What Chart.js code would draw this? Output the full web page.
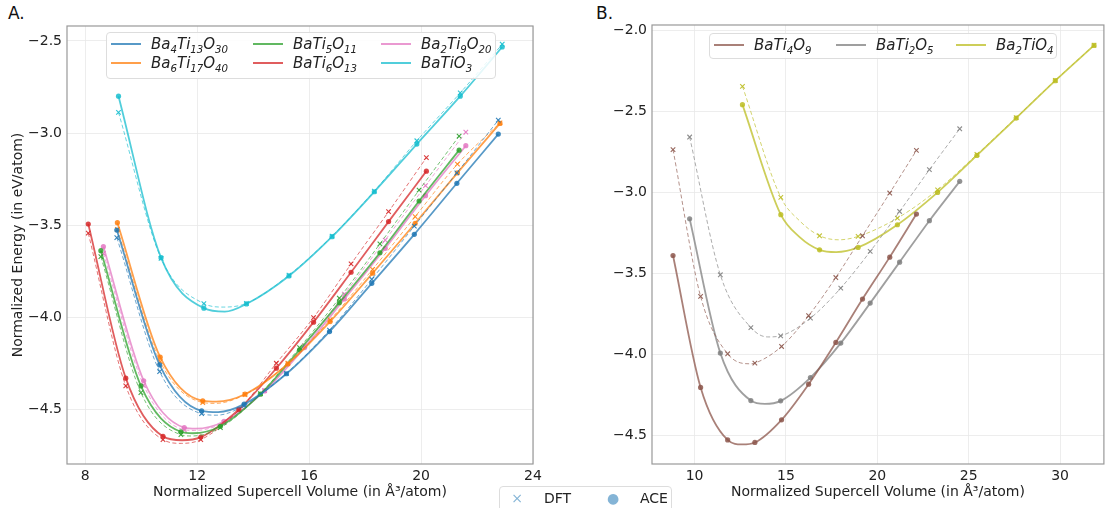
<!DOCTYPE html>
<html>
<head>
<meta charset="utf-8">
<script src="https://cdn.jsdelivr.net/npm/chart.js@4.4.1/dist/chart.umd.min.js"></script>
<style>
  body { margin:0; width:1109px; height:508px; background:#fff; position:relative; overflow:hidden; font-family:'DejaVu Sans', sans-serif; color:#222; }
  .panel { position:absolute; top:0; height:508px; }
  #wrapA { left:0; width:560px; }
  #wrapB { left:580px; width:529px; }
  .tag { position:absolute; top:3px; font-size:17px; color:#111; }
  .legend { position:absolute; border:1px solid #ddd; border-radius:4px; background:rgba(255,255,255,.85); font-size:15px; }
  .item { position:absolute; height:20px; display:flex; align-items:center; white-space:nowrap; font-style:italic; }
  .item i { display:inline-block; width:30px; height:2px; margin-right:10px; }
  .item sub { font-size:68%; vertical-align:-0.35em; line-height:0; }
  #keys .item { font-style:normal; font-size:14px; }
  #keys .mark { width:26px; text-align:center; margin-right:14px; color:rgba(31,119,180,.55); }
</style>
</head>
<body>
<div class="tag" style="left:8px">A.</div>
<div class="tag" style="left:596px">B.</div>
<div class="panel" id="wrapA"><canvas id="chartA" width="560" height="508"></canvas></div>
<div class="panel" id="wrapB"><canvas id="chartB" width="529" height="508"></canvas></div>
<div class="legend" id="legA" style="left:106px;top:32px;width:388px;height:45px"></div>
<div class="legend" id="legB" style="left:709px;top:33px;width:346px;height:24px"></div>
<div class="legend" id="keys" style="left:499px;top:486px;width:171px;height:30px"></div>
<script>
// volumes (Å^3/atom), ACE and DFT energies (eV/atom) at each volume,
// plus a few extra points (minimum etc): [ACE fit, DFT fit]

// --- panel A ---
const volBa4Ti13O30 = [9.13, 10.66, 12.16, 13.68, 15.19, 16.73, 18.24, 19.76, 21.28, 22.76];
const aceBa4Ti13O30 = [-3.527, -4.259, -4.508, -4.472, -4.307, -4.078, -3.816, -3.550, -3.273, -3.006];
const dftBa4Ti13O30 = [-3.568, -4.295, -4.524, -4.480, -4.305, -4.070, -3.794, -3.505, -3.216, -2.930];
const fitBa4Ti13O30 = [[[12.75, -4.515]], [[12.70, -4.532]]];

const volBa6Ti17O40 = [9.15, 10.68, 12.20, 13.71, 15.24, 16.75, 18.27, 19.79, 21.30, 22.82];
const aceBa6Ti17O40 = [-3.487, -4.217, -4.454, -4.418, -4.254, -4.024, -3.761, -3.490, -3.216, -2.948];
const dftBa6Ti17O40 = [-3.523, -4.241, -4.463, -4.420, -4.250, -4.015, -3.740, -3.454, -3.169, -2.945];
const fitBa6Ti17O40 = [[[12.69, -4.458]], [[12.65, -4.468]]];

const volBaTi5O11 = [8.56, 9.99, 11.42, 12.83, 14.26, 15.66, 17.08, 18.53, 19.93, 21.36];
const aceBaTi5O11 = [-3.639, -4.373, -4.622, -4.592, -4.418, -4.177, -3.921, -3.650, -3.369, -3.093];
const dftBaTi5O11 = [-3.671, -4.409, -4.638, -4.600, -4.415, -4.165, -3.897, -3.602, -3.310, -3.017];
const fitBaTi5O11 = [[[11.85, -4.630]], [[11.80, -4.645]]];

const volBaTi6O13 = [8.11, 9.45, 10.78, 12.13, 13.49, 14.83, 16.16, 17.50, 18.84, 20.19];
const aceBaTi6O13 = [-3.494, -4.331, -4.647, -4.651, -4.500, -4.277, -4.027, -3.756, -3.481, -3.207];
const dftBaTi6O13 = [-3.544, -4.373, -4.665, -4.665, -4.505, -4.250, -4.002, -3.711, -3.427, -3.134];
const fitBaTi6O13 = [[[11.46, -4.668]], [[11.45, -4.685]]];

const volBa2Ti9O20 = [8.65, 10.09, 11.54, 12.96, 14.41, 15.84, 17.26, 18.72, 20.16, 21.60];
const aceBa2Ti9O20 = [-3.617, -4.345, -4.599, -4.566, -4.400, -4.165, -3.901, -3.626, -3.340, -3.069];
const dftBa2Ti9O20 = [-3.653, -4.370, -4.611, -4.572, -4.398, -4.155, -3.875, -3.581, -3.286, -2.995];
const fitBa2Ti9O20 = [[[11.95, -4.605]], [[11.90, -4.615]]];

const volBaTiO3 = [9.19, 10.71, 12.24, 13.76, 15.28, 16.82, 18.33, 19.85, 21.40, 22.90];
const aceBaTiO3 = [-2.800, -3.677, -3.951, -3.928, -3.776, -3.563, -3.319, -3.060, -2.800, -2.533];
const dftBaTiO3 = [-2.888, -3.680, -3.926, -3.925, -3.772, -3.560, -3.315, -3.042, -2.782, -2.518];
const fitBaTiO3 = [[[12.99, -3.970]], [[12.95, -3.945]]];

// --- panel B ---
const volBaTi4O9 = [8.82, 10.33, 11.81, 13.30, 14.76, 16.24, 17.73, 19.19, 20.68, 22.14];
const aceBaTi4O9 = [-3.389, -4.204, -4.528, -4.544, -4.404, -4.184, -3.926, -3.658, -3.399, -3.133];
const dftBaTi4O9 = [-2.735, -3.642, -3.996, -4.054, -3.951, -3.761, -3.525, -3.267, -3.003, -2.740];
const fitBaTi4O9 = [[[12.60, -4.556]], [[13.05, -4.058]]];

const volBaTi2O5 = [9.73, 11.41, 13.08, 14.71, 16.34, 18.00, 19.61, 21.22, 22.85, 24.51];
const aceBaTi2O5 = [-3.162, -3.992, -4.285, -4.287, -4.143, -3.930, -3.683, -3.430, -3.174, -2.931];
const dftBaTi2O5 = [-2.657, -3.508, -3.834, -3.885, -3.776, -3.590, -3.364, -3.117, -2.859, -2.606];
const fitBaTi2O5 = [[[13.85, -4.306]], [[14.00, -3.892]]];

const volBa2TiO4 = [12.62, 14.72, 16.84, 18.95, 21.10, 23.30, 25.45, 27.60, 29.74, 31.86];
const aceBa2TiO4 = [-2.457, -3.137, -3.354, -3.339, -3.199, -2.999, -2.771, -2.540, -2.309, -2.091];
const dftBa2TiO4 = [-2.344, -3.030, -3.267, -3.271, -3.158, -2.983, -2.765, -2.537, -2.307, -2.090];
const fitBa2TiO4 = [[[15.75, -3.275], [17.75, -3.368]], [[15.75, -3.175], [17.90, -3.292]]];

const xTicksA = [8, 12, 16, 20, 24];
const yTicksA = [-4.5, -4.0, -3.5, -3.0, -2.5];
const xTicksB = [10, 15, 20, 25, 30];
const yTicksB = [-4.5, -4.0, -3.5, -3.0, -2.5, -2.0];

const xTitle = 'Normalized Supercell Volume (in Å³/atom)';
const yTitle = 'Normalized Energy (in eV/atom)';
const keyLabels = ['DFT', 'ACE'];

Chart.defaults.font.family = "'DejaVu Sans', sans-serif";
Chart.defaults.color = '#222';

function rgba(hex, a) {
  const n = parseInt(hex.slice(1), 16);
  return `rgba(${n >> 16},${(n >> 8) & 255},${n & 255},${a})`;
}
const pts = (xs, ys) => xs.map((x, i) => ({x, y: ys[i]}));
const curve = (xs, ys, extra) => pts(xs, ys).concat(extra.map(p => ({x: p[0], y: p[1]}))).sort((a, b) => a.x - b.x);

function series(color, xs, ace, dft, fit) {
  return [
    {data: curve(xs, ace, fit[0]), showLine: true, borderColor: rgba(color, .75), borderWidth: 1.8, pointRadius: 0, cubicInterpolationMode: 'monotone'},
    {data: curve(xs, dft, fit[1]), showLine: true, borderColor: rgba(color, .65), borderWidth: 1, borderDash: [4, 2.5], pointRadius: 0, cubicInterpolationMode: 'monotone'},
    {data: pts(xs, ace), pointStyle: 'circle', pointRadius: 2.6, backgroundColor: rgba(color, .85), borderWidth: 0},
    {data: pts(xs, dft), pointStyle: 'crossRot', pointRadius: 3.2, borderColor: rgba(color, .9), borderWidth: 1.1}
  ];
}

const seriesA = [
  ['Ba4Ti13O30', '#1f77b4', volBa4Ti13O30, aceBa4Ti13O30, dftBa4Ti13O30, fitBa4Ti13O30],
  ['Ba6Ti17O40', '#ff7f0e', volBa6Ti17O40, aceBa6Ti17O40, dftBa6Ti17O40, fitBa6Ti17O40],
  ['BaTi5O11', '#2ca02c', volBaTi5O11, aceBaTi5O11, dftBaTi5O11, fitBaTi5O11],
  ['BaTi6O13', '#d62728', volBaTi6O13, aceBaTi6O13, dftBaTi6O13, fitBaTi6O13],
  ['Ba2Ti9O20', '#e377c2', volBa2Ti9O20, aceBa2Ti9O20, dftBa2Ti9O20, fitBa2Ti9O20],
  ['BaTiO3', '#17becf', volBaTiO3, aceBaTiO3, dftBaTiO3, fitBaTiO3]
];
const seriesB = [
  ['BaTi4O9', '#8c564b', volBaTi4O9, aceBaTi4O9, dftBaTi4O9, fitBaTi4O9],
  ['BaTi2O5', '#7f7f7f', volBaTi2O5, aceBaTi2O5, dftBaTi2O5, fitBaTi2O5],
  ['Ba2TiO4', '#bcbd22', volBa2TiO4, aceBa2TiO4, dftBa2TiO4, fitBa2TiO4]
];

const frame = {
  id: 'frame',
  afterDatasetsDraw(c) {
    const {ctx, chartArea: a} = c;
    ctx.save();
    ctx.strokeStyle = '#999';
    ctx.lineWidth = 1.2;
    ctx.strokeRect(a.left, a.top, a.right - a.left, a.bottom - a.top);
    ctx.restore();
  }
};

function makeChart(id, list, xr, yr, xt, yt, yWidth, pad, showYTitle) {
  const grid = {color: '#e8e8e8', lineWidth: 0.8, drawTicks: false};
  new Chart(document.getElementById(id), {
    type: 'scatter',
    data: {datasets: list.flatMap(s => series(s[1], s[2], s[3], s[4], s[5]))},
    options: {
      responsive: false, animation: false, devicePixelRatio: 1,
      layout: {padding: pad},
      plugins: {legend: {display: false}, tooltip: {enabled: false}},
      scales: {
        x: {
          type: 'linear', min: xr[0], max: xr[1], grid, border: {display: false},
          afterBuildTicks: s => { s.ticks = xt.map(v => ({value: v})); },
          afterFit: s => { s.height = 44; },
          ticks: {font: {size: 14}, padding: 4, maxRotation: 0, callback: v => String(v)},
          title: {display: true, text: xTitle, font: {size: 14}, padding: {top: 0, bottom: 7}}
        },
        y: {
          type: 'linear', min: yr[0], max: yr[1], grid, border: {display: false},
          afterBuildTicks: s => { s.ticks = yt.map(v => ({value: v})); },
          afterFit: s => { s.width = yWidth; },
          ticks: {font: {size: 14}, padding: 5, callback: v => v.toFixed(1).replace('-', '\u2212')},
          title: {display: showYTitle, text: yTitle, font: {size: 14}, padding: {top: 10, bottom: 0}}
        }
      }
    },
    plugins: [frame]
  });
}

makeChart('chartA', seriesA, [7.35, 24.0], [-4.797, -2.419], xTicksA, yTicksA, 67, {top: 26, right: 27, left: 0, bottom: 0}, true);
makeChart('chartB', seriesB, [7.67, 32.4], [-4.677, -1.965], xTicksB, yTicksB, 72, {top: 25, right: 1, left: 0, bottom: 0}, false);

// legends (formula subscripts as real text)
const formula = s => s.replace(/(\d+)/g, '<sub>$1</sub>');
function legend(id, list, spots) {
  const box = document.getElementById(id);
  list.forEach((s, i) => {
    const el = document.createElement('div');
    el.className = 'item';
    el.style.left = spots[i][0] + 'px';
    el.style.top = spots[i][1] + 'px';
    el.innerHTML = `<i style="background:${rgba(s[1], .75)}"></i><span>${formula(s[0])}</span>`;
    box.appendChild(el);
  });
}
legend('legA', seriesA, [[4, 1], [4, 20], [146, 1], [146, 20], [274, 1], [274, 20]]);
legend('legB', seriesB, [[4, 1], [126, 1], [246, 1]]);

const keys = document.getElementById('keys');
[['\u00d7', keyLabels[0], 4], ['\u25cf', keyLabels[1], 100]].forEach(k => {
  const el = document.createElement('div');
  el.className = 'item';
  el.style.left = k[2] + 'px';
  el.style.top = '1px';
  el.innerHTML = `<span class="mark">${k[0]}</span><span>${k[1]}</span>`;
  keys.appendChild(el);
});
</script>
</body>
</html>
